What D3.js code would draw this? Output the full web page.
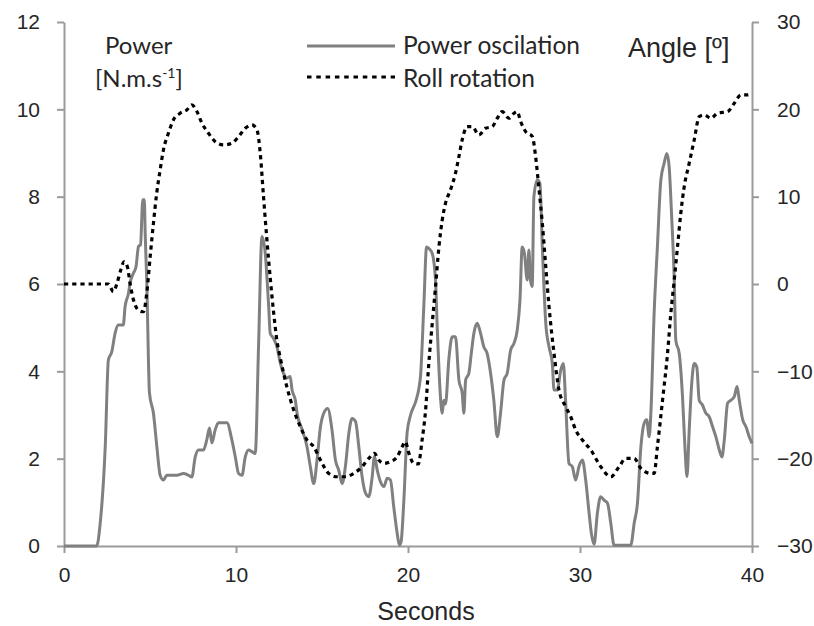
<!DOCTYPE html>
<html>
<head>
<meta charset="utf-8">
<script src="https://cdn.jsdelivr.net/npm/d3@7"></script>
<style>
  html, body { margin: 0; padding: 0; background: #fff; }
  svg { display: block; }
  .tick text { font-family: "Liberation Sans", Arial, sans-serif; fill: #262626; }
</style>
</head>
<body>
<svg id="chart" width="814" height="626"></svg>
<script>
// ---- Data ----
const xTicks = [0, 10, 20, 30, 40];
const powerTicks = [0, 2, 4, 6, 8, 10, 12];
const angleTicks = [-30, -20, -10, 0, 10, 20, 30];

const powerTime = [0,1.9,2.1,2.4,2.58,2.78,2.97,3.16,3.45,3.55,3.75,3.84,4.04,4.19,4.33,4.45,4.58,4.67,4.72,4.81,4.97,5.2,5.4,5.59,5.78,5.98,6.56,6.95,7.24,7.43,7.63,7.82,8.11,8.3,8.46,8.6,8.79,8.98,9.47,9.76,9.96,10.15,10.35,10.54,10.73,10.93,11.12,11.31,11.51,11.7,11.9,11.99,12.19,12.38,12.57,12.77,12.96,13.15,13.26,13.45,13.55,13.84,14.13,14.32,14.52,14.71,14.91,15.1,15.33,15.58,15.78,15.97,16.17,16.36,16.56,16.75,16.95,17.14,17.33,17.53,17.72,17.92,18.05,18.21,18.4,18.6,18.79,18.98,19.17,19.37,19.5,19.6,19.76,19.95,20.15,20.44,20.63,20.73,20.92,21.08,21.25,21.41,21.6,21.7,21.89,21.99,22.08,22.18,22.38,22.57,22.76,22.96,23.15,23.25,23.35,23.54,23.68,23.83,24.02,24.22,24.41,24.6,24.8,24.99,25.19,25.38,25.58,25.77,25.97,26.16,26.35,26.51,26.64,26.77,26.93,27.03,27.12,27.22,27.32,27.52,27.67,27.81,28.01,28.2,28.39,28.49,28.68,28.88,29.03,29.16,29.36,29.55,29.75,29.94,30.14,30.33,30.53,30.66,30.82,31.01,31.2,31.4,31.6,31.79,31.98,32.95,33.15,33.34,33.54,33.73,33.88,34.02,34.12,34.31,34.5,34.7,34.89,35.05,35.18,35.32,35.48,35.57,35.77,35.96,36.1,36.22,36.35,36.51,36.64,36.79,36.93,37.12,37.32,37.51,37.71,37.9,38.1,38.25,38.39,38.58,38.78,38.97,39.13,39.26,39.46,39.65,39.84,40];
const powerValue = [0,0,0.5,2.3,4.26,4.45,4.87,5.06,5.06,5.48,5.79,6.02,6.25,6.4,6.86,6.9,7.93,7.93,7.16,6.09,3.5,3.04,2.27,1.62,1.51,1.62,1.62,1.66,1.62,1.58,2.04,2.2,2.2,2.43,2.7,2.36,2.66,2.82,2.82,2.43,2.04,1.66,1.62,2.04,2.2,2.16,2.12,4.56,7.09,6.7,5.48,4.87,4.75,4.56,4.2,3.95,3.85,3.88,3.57,3.34,3.04,2.67,2.27,1.82,1.43,1.96,2.73,3.04,3.15,2.66,1.97,1.74,1.43,1.82,2.58,2.92,2.85,2.27,1.59,1.21,1.13,1.59,2.05,1.74,1.47,1.36,1.55,1.51,0.9,0.29,0.02,0.1,1.05,2.6,3.0,3.3,3.6,3.9,5.5,6.85,6.8,6.7,6.09,5.0,3.4,3.04,3.34,3.25,4.3,4.79,4.79,3.8,3.5,3.04,3.8,3.96,4.41,4.87,5.1,4.87,4.56,4.41,3.96,3.34,2.5,3.04,3.8,3.96,4.49,4.64,4.94,5.63,6.85,6.7,6.09,6.78,6.09,5.94,8.0,8.38,8.3,6.85,5.1,4.56,4.18,3.57,3.57,4.03,4.18,3.34,1.89,1.82,1.51,1.82,1.97,1.51,0.75,0.29,0.04,0.75,1.13,1.05,0.98,0.52,0.02,0.02,0.52,0.98,2.27,2.81,2.89,2.5,3.04,5.33,6.85,8.38,8.76,8.99,8.7,7.62,6.09,4.71,4.41,3.42,2.27,1.59,2.66,3.8,4.18,4.1,3.34,3.23,3.04,2.96,2.73,2.5,2.2,2.04,2.43,3.27,3.34,3.42,3.65,3.34,2.89,2.73,2.5,2.35];

const rollTime = [0,2.58,2.87,3.07,3.3,3.49,3.69,3.84,4.04,4.33,4.62,4.81,5.01,5.2,5.39,5.59,5.78,6.07,6.36,6.75,7.14,7.43,7.73,8.02,8.4,8.79,9.27,9.76,10.15,10.54,10.93,11.22,11.41,11.6,11.8,11.99,12.19,12.38,12.58,12.96,13.35,13.74,14.13,14.52,14.91,15.39,15.88,16.36,16.84,17.33,17.72,18.05,18.3,18.6,18.98,19.37,19.66,19.85,20.05,20.34,20.6,20.82,21.02,21.21,21.41,21.6,21.8,21.99,22.18,22.47,22.76,22.96,23.15,23.44,23.74,24.12,24.51,24.9,25.19,25.48,25.87,26.16,26.35,26.55,26.84,27.23,27.42,27.62,27.81,28.01,28.2,28.49,28.78,29.17,29.46,29.75,30.14,30.63,31.21,31.79,32.27,32.66,33.15,33.54,34.12,34.31,34.5,34.8,35.09,35.28,35.48,35.67,35.86,36.06,36.35,36.64,36.93,37.22,37.61,38.0,38.58,38.97,39.36,39.75,40];
const rollAngle = [0,0,-0.87,0,1.6,2.55,1.94,0.08,-1.83,-2.98,-3.17,-1.07,3.13,6.95,10.39,13.06,15.35,17.26,18.79,19.55,19.93,20.5,19.74,18.41,17.26,16.3,15.92,16.12,16.88,17.83,18.21,17.64,14.97,10.0,5.0,0.7,-3.3,-6.5,-8.5,-11.8,-14.4,-16.34,-17.87,-18.64,-20.16,-21.69,-22.07,-22.07,-21.69,-20.93,-19.97,-19.39,-20.16,-20.54,-20.35,-19.78,-18.64,-18.06,-19.39,-20.54,-20.6,-17.87,-14.5,-9.08,-4.5,-0.31,4.27,7.33,9.24,10.77,12.68,14.58,16.49,18.02,18.02,17.07,17.83,18.02,18.98,19.74,18.98,19.55,19.74,18.6,17.45,16.88,14.58,10.77,6.95,1.98,-2.6,-7.94,-12.14,-14.05,-15.2,-16.72,-17.87,-19.01,-20.93,-22.07,-20.93,-19.97,-19.97,-21.11,-21.69,-21.69,-18.64,-13.29,-7.94,-3.36,0.46,4.27,8.1,11.15,13.83,16.49,19.16,19.36,18.98,19.55,19.74,20.7,21.65,21.65,21.84];

const seriesNames = ["Power oscilation", "Roll rotation"];

// ---- Layout ----
const svg = d3.select("#chart");
const plotLeft = 64, plotRight = 752, plotTop = 22, plotBottom = 546;
const axisColor = "#9a9a9a";
const textColor = "#262626";

const x = d3.scaleLinear().domain([0, 40]).range([plotLeft, plotRight]);
const yP = d3.scaleLinear().domain([0, 12]).range([plotBottom, plotTop]);
const yA = d3.scaleLinear().domain([-30, 30]).range([plotBottom, plotTop]);

function styleAxis(g) {
  g.select(".domain").attr("stroke", axisColor).attr("stroke-width", 2);
  g.selectAll(".tick line").attr("stroke", axisColor).attr("stroke-width", 2);
  g.selectAll(".tick text").attr("fill", textColor).attr("font-size", 21);
}

const gx = svg.append("g").attr("transform", `translate(0,${plotBottom})`)
  .call(d3.axisBottom(x).tickValues(xTicks).tickSize(7).tickSizeOuter(0).tickPadding(14).tickFormat(d3.format("d")));
styleAxis(gx);

const gl = svg.append("g").attr("transform", `translate(${plotLeft},0)`)
  .call(d3.axisLeft(yP).tickValues(powerTicks).tickSize(7).tickSizeOuter(0).tickPadding(17).tickFormat(d3.format("d")));
styleAxis(gl);

const gr = svg.append("g").attr("transform", `translate(${plotRight},0)`)
  .call(d3.axisRight(yA).tickValues(angleTicks).tickSize(7).tickSizeOuter(0).tickPadding(18).tickFormat(d3.format("d")));
styleAxis(gr);

// ---- Lines ----
const powerData = powerTime.map((t, i) => [t, powerValue[i]]);
const rollData = rollTime.map((t, i) => [t, rollAngle[i]]);

const powerLine = d3.line().x(d => x(d[0])).y(d => yP(d[1])).curve(d3.curveMonotoneX);
const rollLine = d3.line().x(d => x(d[0])).y(d => yA(d[1])).curve(d3.curveMonotoneX);

svg.append("path").datum(powerData)
  .attr("d", powerLine).attr("fill", "none")
  .attr("stroke", "#808080").attr("stroke-width", 3).attr("stroke-linejoin", "round");

svg.append("path").datum(rollData)
  .attr("d", rollLine).attr("fill", "none")
  .attr("stroke", "#000").attr("stroke-width", 3.2)
  .attr("stroke-dasharray", "4.2,4").attr("stroke-linecap", "butt");

// ---- Texts ----
const calib = "Lato, 'Open Sans', sans-serif";
svg.append("text").attr("x", 105).attr("y", 54)
  .attr("font-family", calib).attr("font-size", 24).attr("fill", textColor).text("Power");
const unit = svg.append("text").attr("x", 95).attr("y", 87)
  .attr("font-family", calib).attr("font-size", 24).attr("fill", textColor);
unit.append("tspan").text("[N.m.s");
unit.append("tspan").attr("font-size", 14).attr("dy", -9).text("-1");
unit.append("tspan").attr("dy", 9).text("]");

svg.append("text").attr("x", 628).attr("y", 57)
  .attr("font-family", "'Liberation Sans', Arial, sans-serif").attr("font-size", 27)
  .attr("fill", textColor).text("Angle [º]");

svg.append("text").attr("x", 426).attr("y", 620)
  .attr("text-anchor", "middle")
  .attr("font-family", "'Liberation Sans', Arial, sans-serif").attr("font-size", 25)
  .attr("fill", textColor).text("Seconds");

// ---- Legend ----
const legend = svg.append("g");
legend.append("line").attr("x1", 307).attr("x2", 395).attr("y1", 46).attr("y2", 46)
  .attr("stroke", "#808080").attr("stroke-width", 3);
legend.append("line").attr("x1", 307).attr("x2", 395).attr("y1", 77).attr("y2", 77)
  .attr("stroke", "#000").attr("stroke-width", 3.2).attr("stroke-dasharray", "4.5,4.8");
legend.selectAll("text.lg").data(seriesNames).enter().append("text")
  .attr("class", "lg").attr("x", 403).attr("y", (d, i) => 54 + i * 33)
  .attr("font-family", calib).attr("font-size", 24.5).attr("fill", textColor)
  .text(d => d);
</script>
</body>
</html>
